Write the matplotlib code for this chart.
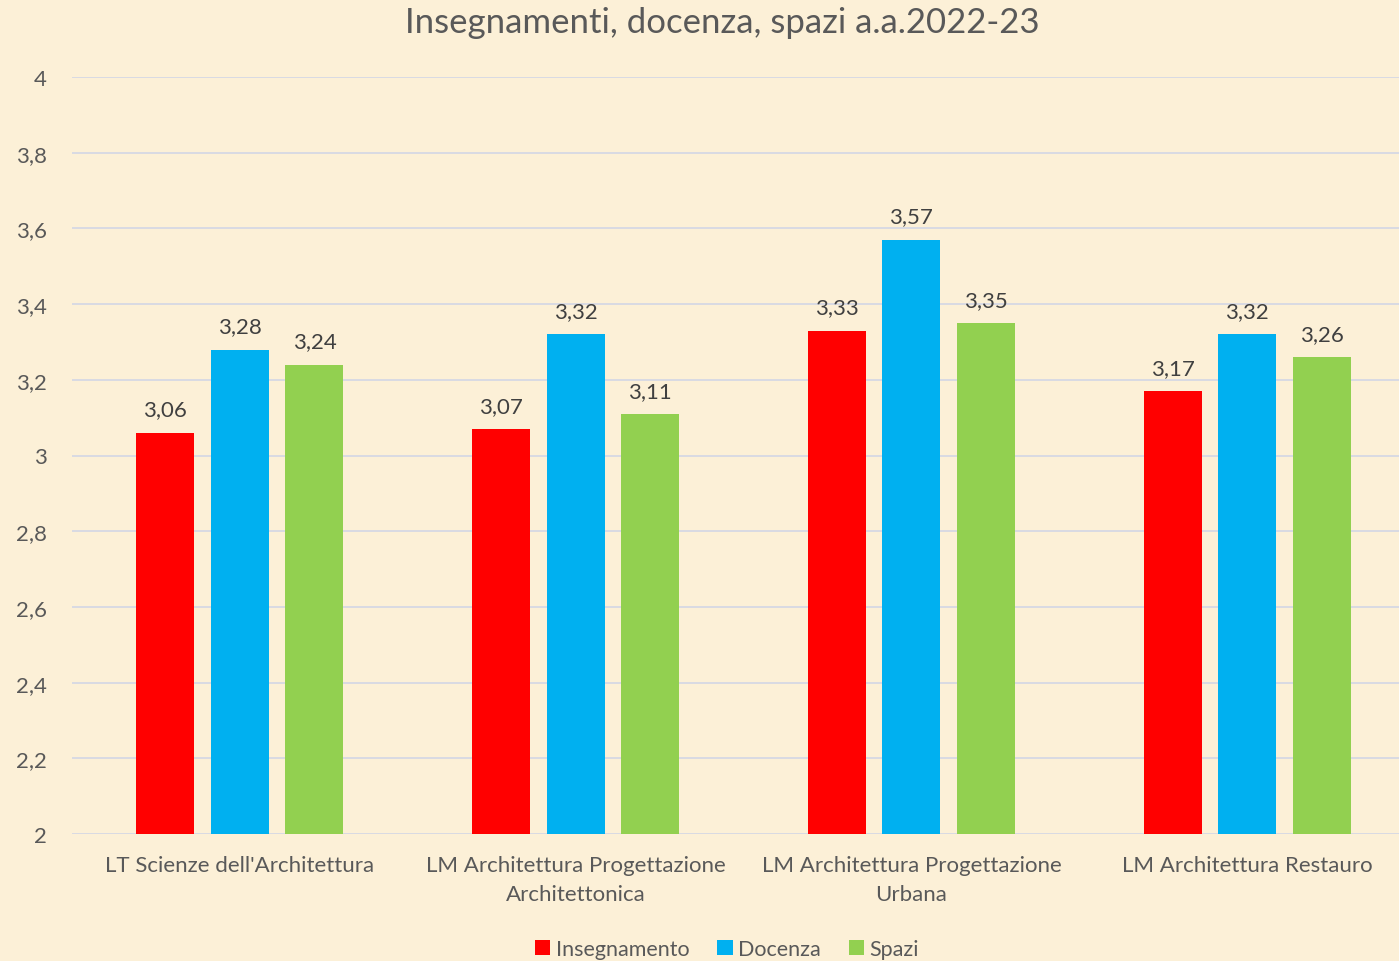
import numpy as np
import matplotlib
matplotlib.use('Agg')
from matplotlib import pyplot as plt
from matplotlib.ticker import FuncFormatter

categories = ["LT Scienze dell'Architettura",
              "LM Architettura Progettazione\nArchitettonica",
              "LM Architettura Progettazione\nUrbana",
              "LM Architettura Restauro"]
insegnamento = [3.06, 3.07, 3.33, 3.17]
docenza = [3.28, 3.32, 3.57, 3.32]
spazi = [3.24, 3.11, 3.35, 3.26]
series_names = ['Insegnamento', 'Docenza', 'Spazi']
colors = ['#FF0000', '#00B0F0', '#92D050']
yticks = [2, 2.2, 2.4, 2.6, 2.8, 3, 3.2, 3.4, 3.6, 3.8, 4]

plt.rcParams['font.family'] = ['Lato', 'DejaVu Sans']
bg = '#FCF0D7'

fig = plt.figure(figsize=(13.99, 9.62), dpi=100, facecolor=bg)
ax = fig.add_axes([72 / 1399, 1 - 835 / 962, 1343 / 1399, (835 - 78) / 962])
ax.set_facecolor(bg)

x = np.arange(len(categories))
width = 0.173
step = 0.222
for j, (vals, name, c) in enumerate(zip([insegnamento, docenza, spazi], series_names, colors)):
    pos = x + (j - 1) * step
    bars = ax.bar(pos, np.array(vals) - 2, width, bottom=2, color=c, label=name, zorder=3)
    for p, v in zip(pos, vals):
        ax.text(p, v + 0.035, ('%.2f' % v).replace('.', ','), ha='center', va='bottom',
                fontsize=16, color='#404040')

ax.set_ylim(2, 4)
ax.set_xlim(-0.5, 3.5)
ax.set_yticks(yticks)
ax.yaxis.set_major_formatter(FuncFormatter(lambda v, _: ('%g' % v).replace('.', ',')))
ax.set_xticks(x)
ax.set_xticklabels(categories, fontsize=16, color='#595959', linespacing=1.55)
ax.tick_params(axis='y', labelsize=16, labelcolor='#595959', length=0, pad=18)
ax.tick_params(axis='x', length=0, pad=15)
ax.grid(axis='y', color='#D6D8E4', linewidth=1.3, zorder=0)
for s in ax.spines.values():
    s.set_visible(False)

fig.text(0.516, 1 - 23 / 962, 'Insegnamenti, docenza, spazi a.a.2022-23', ha='center', va='center',
         fontsize=25, color='#595959')

fig.legend(loc='center', bbox_to_anchor=(727 / 1399, 1 - 950 / 962), ncol=3, frameon=False,
           fontsize=15.5, labelcolor='#595959', handlelength=0.7, handleheight=0.7,
           handletextpad=0.25, columnspacing=1.3)

fig.savefig('out.png', dpi=100, facecolor=bg)
